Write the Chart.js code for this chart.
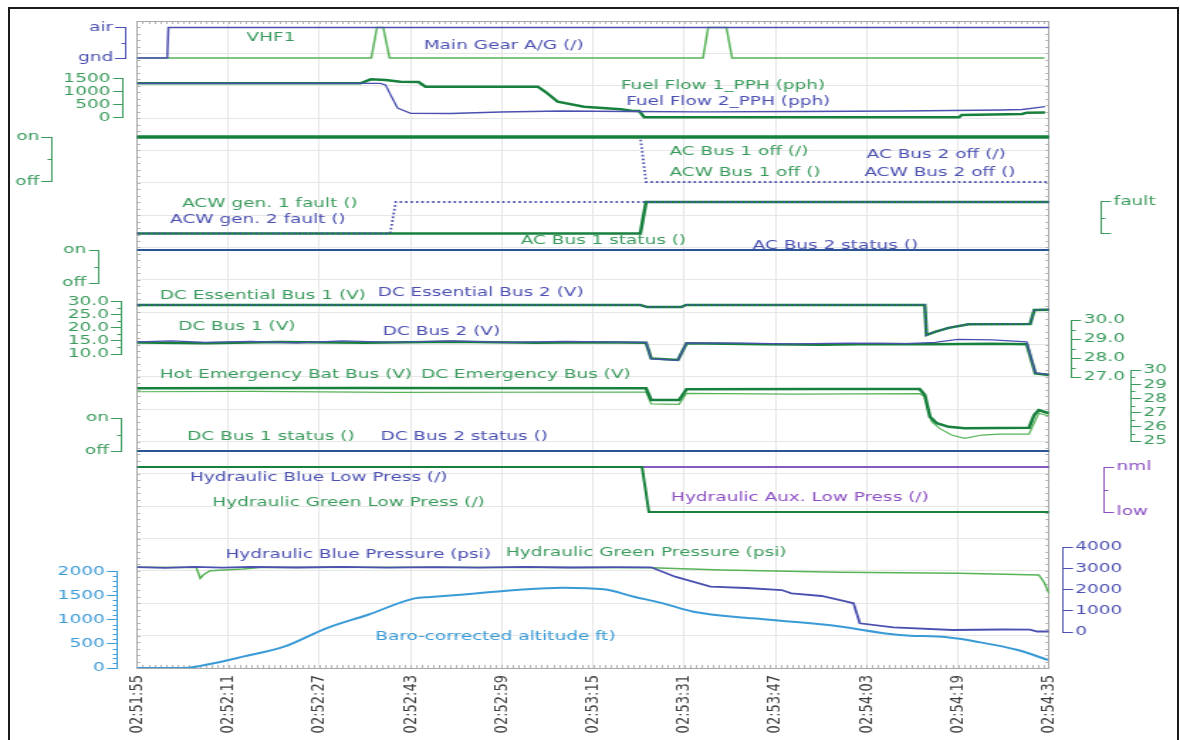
<!DOCTYPE html>
<html>
<head>
<meta charset="utf-8">
<title>Electrical and hydraulic parameters 02:51:55 - 02:54:35</title>
<script src="https://cdn.jsdelivr.net/npm/chart.js@4.4.1/dist/chart.umd.min.js"></script>
<style>
  html, body { margin: 0; padding: 0; background: #fff; overflow: hidden; }
  #frame { position: absolute; left: 8px; top: 7px; width: 1167px; height: 800px; border: 2px solid #1b1b1b; }
  /* the plot is laid out narrow and widened horizontally, like the exported trace sheet */
  #wrap { position: absolute; left: 0; top: 0; width: 831px; height: 740px; transform: scaleX(1.42); transform-origin: 0 0; }
</style>
</head>
<body>
<div id="wrap"><canvas id="chart" width="831" height="740"></canvas></div>
<div id="frame"></div>
<script>
// time is seconds after 02:51:55
var T0 = 2 * 3600 + 51 * 60 + 55;
var timeTicks = [0, 16, 32, 48, 64, 80, 96, 112, 128, 144, 160];

// [t, value] pairs
var mainGear = [[0, 0], [5.3, 0], [5.5, 1], [160, 1]];
var vhf1 = [[0, 0], [41.1, 0], [42.1, 1], [43.2, 1], [44.3, 0], [99.3, 0], [100.2, 1], [103.4, 1], [104.4, 0], [159.2, 0]];

var fuelFlow1 = [[0, 1308], [39.2, 1308], [41.0, 1462], [43.6, 1435], [46.2, 1369], [49.4, 1358], [50.6, 1177], [70.3, 1177],
    [71.7, 973], [73.8, 600], [78.4, 408], [84.9, 308], [86.7, 254], [88.1, 242], [89.0, 0], [144.2, 0], [144.7, 88],
    [155.3, 127], [156.1, 177], [159.3, 185]];
var fuelFlow2 = [[0, 1308], [42.7, 1308], [43.6, 1242], [44.5, 858], [45.7, 358], [48.0, 154], [55.0, 146], [63.8, 204],
    [74.4, 242], [86.7, 223], [99.0, 212], [116.6, 223], [134.2, 242], [151.7, 281], [155.3, 300], [159.3, 408]];

var acBus1Off = [[0, 1], [160, 1]];
var acBus2Off = [[0, 1], [160, 1]];
var acwBus1Off = [[0, 1], [160, 1]];
var acwBus2Off = [[0, 1], [88.3, 1], [89.3, 0], [160, 0]];

var acwGen1Fault = [[0, 0], [88.3, 0], [89.3, 1], [160, 1]];
var acwGen2Fault = [[0, 0], [44.4, 0], [45.4, 1], [160, 1]];

var acBus1Status = [[0, 1], [160, 1]];
var acBus2Status = [[0, 1], [160, 1]];

var dcEss1 = [[0, 28.6], [88.3, 28.6], [89.5, 27.8], [95.5, 27.8], [96.3, 28.6], [138.2, 28.6], [138.5, 17.2], [140.0, 18.4],
    [142.4, 19.9], [145.9, 21.3], [156.7, 21.4], [157.4, 26.7], [160, 26.8]];
var dcEss2 = [[0, 28.65], [88.3, 28.65], [89.5, 27.85], [95.5, 27.85], [96.3, 28.65], [138.2, 28.65], [138.5, 17.3], [140.0, 18.5],
    [142.4, 20.0], [145.9, 21.4], [156.7, 21.5], [157.4, 26.8], [160, 26.9]];

var dcBus1 = [[0, 28.82], [12, 28.78], [25, 28.84], [40, 28.8], [55, 28.85], [70, 28.8], [80, 28.83], [89.3, 28.8], [90.2, 27.98],
    [94.9, 27.9], [96.4, 28.77], [110, 28.72], [120, 28.7], [130, 28.74], [140, 28.72], [150, 28.75], [156.1, 28.72],
    [157.6, 27.19], [160, 27.1]];
var dcBus2 = [[0, 28.85], [6, 28.9], [12, 28.82], [20, 28.88], [28, 28.8], [36, 28.9], [45, 28.83], [55, 28.9], [65, 28.82],
    [75, 28.88], [85, 28.84], [89.3, 28.82], [90.2, 27.95], [94.9, 27.88], [96.4, 28.8], [105, 28.78], [115, 28.74],
    [125, 28.78], [135, 28.76], [140, 28.82], [144, 28.98], [150, 28.95], [156.1, 28.85], [157.6, 27.22], [160, 27.14]];

var hotEmerBat = [[0, 28.71], [40, 28.74], [89.3, 28.71], [90.2, 27.89], [95.1, 27.89], [96.4, 28.64], [120, 28.66], [137.3, 28.66],
    [138.2, 28.24], [139.1, 26.71], [140.3, 26.25], [142.4, 26.0], [145.2, 25.89], [156.5, 25.94], [157.4, 26.83],
    [158.2, 27.18], [159.1, 27.06], [160, 26.95]];
var dcEmer = [[0, 28.47], [20, 28.5], [45, 28.42], [89.3, 28.45], [90.2, 27.61], [95.1, 27.58], [96.4, 28.36], [115, 28.3],
    [137.3, 28.34], [138.2, 28.12], [139.4, 26.36], [140.8, 25.89], [142.9, 25.42], [145.2, 25.19], [148.2, 25.42],
    [151.2, 25.49], [156.5, 25.49], [158.2, 26.95], [160, 26.76]];

var dcBus1Status = [[0, 0], [160, 0]];
var dcBus2Status = [[0, 0], [160, 0]];

var hydBlueLow = [[0, 1], [160, 1]];
var hydGreenLow = [[0, 1], [88.6, 1], [89.8, 0], [160, 0]];
var hydAuxLow = [[0, 1], [160, 1]];

var hydGreenPress = [[0, 3045], [10.4, 3035], [11.1, 2527], [11.6, 2682], [12.8, 2885], [18.6, 2965], [21.6, 3035], [50.3, 3045],
    [90.2, 3021], [102.7, 2918], [123.4, 2809], [144.2, 2762], [158.2, 2682], [159.1, 2353], [160, 1821]];
var hydBluePress = [[0, 3050], [5, 3020], [10, 3060], [15, 3030], [20, 3065], [28, 3035], [36, 3060], [44, 3025], [52, 3055],
    [60, 3030], [68, 3060], [76, 3035], [84, 3055], [90.2, 3045], [94.4, 2602], [100.6, 2132], [106.9, 2071], [113.1, 1976],
    [114.8, 1821], [120.1, 1694], [124.5, 1426], [125.7, 1351], [126.8, 409], [132.7, 221], [143.1, 94], [151.7, 118],
    [156.7, 108], [157.9, 24], [160, 24]];

var baroAlt = [[0, 0], [8.3, 0], [12.8, 83], [18.6, 235], [25.8, 442], [33.2, 823], [40.4, 1098], [48.7, 1443], [51.5, 1471],
    [56.1, 1513], [66.5, 1617], [74.7, 1665], [81.9, 1630], [87.2, 1478], [92.3, 1340], [97.6, 1166], [108.0, 1029],
    [121.3, 891], [133.8, 684], [142.1, 636], [147.3, 545], [154.5, 373], [159.8, 166]];

// axis tick values
var onOffTicks = [0, 1];
var fuelTicks = [0, 500, 1000, 1500];
var dcEssTicks = [10, 15, 20, 25, 30];
var dcBusTicks = [27, 28, 29, 30];
var emerTicks = [25, 26, 27, 28, 29, 30];
var altTicks = [0, 500, 1000, 1500, 2000];
var hydTicks = [0, 1000, 2000, 3000, 4000];

var SX = 1.42;             // horizontal widening of the sheet
var PLOT_TOP = 21, PLOT_BOTTOM = 668;
var TICK_LEN = 11 / SX, LABEL_GAP = 1.5 / SX;
var FONT = '"DejaVu Sans", Verdana, sans-serif';

var BLUE = '#4b50b0';
var NAVY = '#2b5495';
var GREEN = '#17803d';
var GREEN_TXT = '#3a9a5c';
var GREEN_LIGHT = '#58b258';
var PURPLE = '#8c4fc2';
var SKY = '#3a9ad6';

function onOff(v) { return v === 1 ? 'on' : 'off'; }
function oneDec(v) { return v.toFixed(1); }
function plain(v) { return String(v); }

function range(from, to, step, skip) {
    var out = [];
    for (var v = from; v <= to; v += step) if (v % skip !== 0) out.push(v);
    return out;
}

// value axes: rows = [top value, sheet row, bottom value, sheet row]; span = box width on the sheet
var axisDefs = {
    yAcOff:  { pos: 'left', weight: 9, span: 52, rows: [1, 137, 0, 182], ticks: onOffTicks, fmt: onOff, color: GREEN_TXT, minor: [0.5] },
    yAcStat: { pos: 'left', weight: 8, span: 48, rows: [1, 250, 0, 283], ticks: onOffTicks, fmt: onOff, color: GREEN_TXT, minor: [0.5] },
    yAlt:    { pos: 'left', weight: 7, span: 18, rows: [2000, 571.5, 0, 668], ticks: altTicks, fmt: plain, color: SKY, minor: range(100, 1900, 100, 500) },
    yDcEss:  { pos: 'left', weight: 6, span: 4, rows: [30, 301.3, 10, 354], ticks: dcEssTicks, fmt: oneDec, color: GREEN_TXT, minor: [12.5, 17.5, 22.5, 27.5] },
    yDcStat: { pos: 'left', weight: 5, span: 0, rows: [1, 418, 0, 451], ticks: onOffTicks, fmt: onOff, color: GREEN_TXT, minor: [0.5] },
    yFuel:   { pos: 'left', weight: 4, span: 2, rows: [1500, 78.3, 0, 117.3], ticks: fuelTicks, fmt: plain, color: GREEN_TXT, minor: [] },
    yGear:   { pos: 'left', weight: 3, span: 2, rows: [1, 27.5, 0, 58], ticks: onOffTicks, color: BLUE, minor: [0.5],
               fmt: function(v) { return v === 1 ? 'air' : 'gnd'; } },
    yHyd:    { pos: 'right', weight: 2, span: 8, rows: [4000, 547, 0, 632], ticks: hydTicks, fmt: plain, color: BLUE, minor: [] },
    yDcBus:  { pos: 'right', weight: 3, span: 30, rows: [30, 320, 27, 377], ticks: dcBusTicks, fmt: oneDec, color: GREEN_TXT, minor: [27.5, 28.5, 29.5] },
    yFault:  { pos: 'right', weight: 4, span: 3, rows: [1, 202, 0, 233.5], ticks: onOffTicks, color: GREEN_TXT, minor: [0.5],
               fmt: function(v) { return v === 1 ? 'fault' : ''; } },
    yLowP:   { pos: 'right', weight: 5, span: 27, rows: [1, 467, 0, 512], ticks: onOffTicks, color: PURPLE, minor: [0.5],
               fmt: function(v) { return v === 1 ? 'nml' : 'low'; } },
    yEmer:   { pos: 'right', weight: 6, span: 50, rows: [30, 370, 25, 441], ticks: emerTicks, fmt: plain, color: GREEN_TXT, minor: [25.5, 26.5, 27.5, 28.5, 29.5] }
};

function fixWidth(px) {
    return function(scale) { scale.width = px / SX; };
}

// min/max so that vTop sits on sheet row rowTop and vBot on rowBot
function limits(vTop, rowTop, vBot, rowBot) {
    var perRow = (vTop - vBot) / (rowBot - rowTop);
    return { max: vTop + (rowTop - PLOT_TOP) * perRow, min: vBot - (PLOT_BOTTOM - rowBot) * perRow };
}

function valueAxis(o) {
    var lim = limits(o.rows[0], o.rows[1], o.rows[2], o.rows[3]);
    return {
        type: 'linear',
        position: o.pos,
        weight: o.weight,
        min: lim.min,
        max: lim.max,
        afterFit: fixWidth(o.span),
        afterBuildTicks: function(scale) {
            scale.ticks = o.ticks.map(function(v) { return { value: v }; });
        },
        border: { display: false },
        grid: { display: true, drawOnChartArea: false, drawTicks: true, tickLength: TICK_LEN, color: o.color, lineWidth: 1 },
        // boxes are narrower than their labels, the labels are painted by axisSpines
        ticks: { display: false, callback: o.fmt }
    };
}

function spacer(pos, weight, span) {
    return {
        type: 'linear', position: pos, weight: weight, min: 0, max: 1,
        afterFit: fixWidth(span),
        border: { display: false }, grid: { display: false }, ticks: { display: false }
    };
}

var scales = {
    x: {
        type: 'linear', position: 'bottom', min: 0, max: 160,
        afterBuildTicks: function(scale) {
            scale.ticks = timeTicks.map(function(v) { return { value: v }; });
        },
        afterFit: function(scale) { scale.height = 740 - PLOT_BOTTOM; },
        border: { display: false },
        grid: { color: '#e6e6e6', drawTicks: false },
        ticks: {
            autoSkip: false, maxRotation: 90, minRotation: 90, padding: 7, color: '#3d3d3d',
            font: { family: FONT, size: 13 },
            callback: function(v) {
                var t = T0 + v;
                return [Math.floor(t / 3600), Math.floor(t % 3600 / 60), t % 60].map(function(n) {
                    return String(n).padStart(2, '0');
                }).join(':');
            }
        }
    },
    yGrid: {
        type: 'linear', position: 'left', weight: 2, min: 0, max: 20,
        afterFit: fixWidth(0),
        afterBuildTicks: function(scale) {
            var t = [];
            for (var i = 0; i <= 20; i++) t.push({ value: i });
            scale.ticks = t;
        },
        border: { display: false },
        grid: { color: '#e6e6e6', drawTicks: false },
        ticks: { display: false }
    },
    yPadL: spacer('left', 1, 11),
    yPadR: spacer('right', 1, 13)
};
Object.keys(axisDefs).forEach(function(id) { scales[id] = valueAxis(axisDefs[id]); });

// trace names written inside the plot: [text, axis, t, value, colour]
var notes = [
    ['VHF1', 'yGear', 19.2, 0.656, GREEN_TXT],
    ['Main Gear A/G (/)', 'yGear', 50.3, 0.393, BLUE],
    ['Fuel Flow 1_PPH (pph)', 'yFuel', 84.9, 1204, GREEN_TXT],
    ['Fuel Flow 2_PPH (pph)', 'yFuel', 85.8, 588, BLUE],
    ['AC Bus 1 off (/)', 'yAcOff', 93.4, 0.667, GREEN_TXT],
    ['ACW Bus 1 off ()', 'yAcOff', 93.4, 0.2, GREEN_TXT],
    ['AC Bus 2 off (/)', 'yAcOff', 128.0, 0.6, BLUE],
    ['ACW Bus 2 off ()', 'yAcOff', 127.6, 0.2, BLUE],
    ['ACW gen. 1 fault ()', 'yFault', 7.9, 0.937, GREEN_TXT],
    ['ACW gen. 2 fault ()', 'yFault', 5.8, 0.429, BLUE],
    ['AC Bus 1 status ()', 'yAcStat', 67.3, 1.273, GREEN_TXT],
    ['AC Bus 2 status ()', 'yAcStat', 108.0, 1.121, BLUE],
    ['DC Essential Bus 1 (V)', 'yDcEss', 4.0, 32.0, GREEN_TXT],
    ['DC Essential Bus 2 (V)', 'yDcEss', 42.2, 33.15, BLUE],
    ['DC Bus 1 (V)', 'yDcBus', 7.2, 29.63, GREEN_TXT],
    ['DC Bus 2 (V)', 'yDcBus', 43.1, 29.37, BLUE],
    ['Hot Emergency Bat Bus (V)', 'yEmer', 4.0, 29.65, GREEN_TXT],
    ['DC Emergency Bus (V)', 'yEmer', 49.8, 29.65, GREEN_TXT],
    ['DC Bus 1 status ()', 'yDcStat', 8.8, 0.424, GREEN_TXT],
    ['DC Bus 2 status ()', 'yDcStat', 42.7, 0.424, BLUE],
    ['Hydraulic Blue Low Press (/)', 'yLowP', 9.3, 0.756, BLUE],
    ['Hydraulic Green Low Press (/)', 'yLowP', 13.2, 0.2, GREEN_TXT],
    ['Hydraulic Aux. Low Press (/)', 'yLowP', 93.7, 0.311, PURPLE],
    ['Hydraulic Blue Pressure (psi)', 'yHyd', 15.5, 3624, BLUE],
    ['Hydraulic Green Pressure (psi)', 'yHyd', 64.7, 3718, GREEN_TXT],
    ['Baro-corrected altitude ft)', 'yAlt', 41.8, 642, SKY]
];

function series(label, pts, axis, color, width, dash, smooth) {
    return {
        label: label,
        data: pts.map(function(p) { return { x: p[0], y: p[1] }; }),
        yAxisID: axis,
        borderColor: color,
        borderWidth: width,
        borderDash: dash || [],
        pointRadius: 0,
        fill: false,
        tension: 0,
        cubicInterpolationMode: smooth ? 'monotone' : 'default'
    };
}

// earlier entries are painted on top
var datasets = [
    series('Main Gear A/G', mainGear, 'yGear', BLUE, 1.5),
    series('VHF1', vhf1, 'yGear', GREEN_LIGHT, 1.5),
    series('Fuel Flow 2_PPH', fuelFlow2, 'yFuel', BLUE, 1.3),
    series('Fuel Flow 1_PPH', fuelFlow1, 'yFuel', GREEN, 2.5),
    series('AC Bus 1 off', acBus1Off, 'yAcOff', GREEN, 3),
    series('ACW Bus 1 off', acwBus1Off, 'yAcOff', GREEN, 3),
    series('AC Bus 2 off', acBus2Off, 'yAcOff', BLUE, 1.5),
    series('ACW Bus 2 off', acwBus2Off, 'yAcOff', BLUE, 1.8, [1.6, 2.2]),
    series('ACW gen. 2 fault', acwGen2Fault, 'yFault', BLUE, 1.8, [1.6, 2.2]),
    series('ACW gen. 1 fault', acwGen1Fault, 'yFault', GREEN, 2.5),
    series('AC Bus 2 status', acBus2Status, 'yAcStat', NAVY, 2),
    series('AC Bus 1 status', acBus1Status, 'yAcStat', GREEN, 2),
    series('DC Essential Bus 2', dcEss2, 'yDcEss', BLUE, 1.5, [1.6, 2.2]),
    series('DC Essential Bus 1', dcEss1, 'yDcEss', GREEN, 2.5),
    series('DC Bus 2', dcBus2, 'yDcBus', BLUE, 1.2),
    series('DC Bus 1', dcBus1, 'yDcBus', GREEN, 2.5),
    series('Hot Emergency Bat Bus', hotEmerBat, 'yEmer', GREEN, 2.5),
    series('DC Emergency Bus', dcEmer, 'yEmer', GREEN_LIGHT, 1.2),
    series('DC Bus 2 status', dcBus2Status, 'yDcStat', NAVY, 2),
    series('DC Bus 1 status', dcBus1Status, 'yDcStat', GREEN, 2),
    series('Hydraulic Green Low Press', hydGreenLow, 'yLowP', GREEN, 2),
    series('Hydraulic Aux. Low Press', hydAuxLow, 'yLowP', PURPLE, 1.6),
    series('Hydraulic Blue Low Press', hydBlueLow, 'yLowP', BLUE, 1.6),
    series('Hydraulic Blue Pressure', hydBluePress, 'yHyd', BLUE, 1.8),
    series('Hydraulic Green Pressure', hydGreenPress, 'yHyd', GREEN_LIGHT, 1.5),
    series('Baro-corrected altitude', baroAlt, 'yAlt', SKY, 2, null, true)
];

// grey plot frame with the small inward ticks along all four sides
var framePlugin = {
    id: 'plotFrame',
    beforeDatasetsDraw: function(chart) {
        var a = chart.chartArea, ctx = chart.ctx;
        var x = chart.scales.x, g = chart.scales.yGrid;
        ctx.save();
        ctx.strokeStyle = '#b4b4b4';
        ctx.lineWidth = 1;
        ctx.beginPath();
        for (var s = 1; s < 160; s++) {
            var px = Math.round(x.getPixelForValue(s)) + 0.5;
            ctx.moveTo(px, a.top); ctx.lineTo(px, a.top + 3);
            ctx.moveTo(px, a.bottom); ctx.lineTo(px, a.bottom - 3);
        }
        for (var k = 1; k < 100; k++) {
            var py = Math.round(g.getPixelForValue(k / 5)) + 0.5;
            ctx.moveTo(a.left, py); ctx.lineTo(a.left + 2.5, py);
            ctx.moveTo(a.right, py); ctx.lineTo(a.right - 2.5, py);
        }
        ctx.stroke();
        ctx.strokeStyle = '#a8a8a8';
        ctx.strokeRect(Math.round(a.left) + 0.5, Math.round(a.top) + 0.5,
            Math.round(a.right - a.left), Math.round(a.bottom - a.top));
        ctx.restore();
    }
};

// spine, short in-between ticks and tick labels of every value axis
var spinePlugin = {
    id: 'axisSpines',
    afterDraw: function(chart) {
        var ctx = chart.ctx;
        ctx.save();
        ctx.lineWidth = 1;
        ctx.font = '13px ' + FONT;
        ctx.textBaseline = 'middle';
        Object.keys(axisDefs).forEach(function(id) {
            var sc = chart.scales[id], d = axisDefs[id];
            var left = d.pos === 'left';
            var x = Math.round(left ? sc.right : sc.left) + (left ? -0.5 : 0.5);
            var dir = left ? -1 : 1;
            var ends = [d.ticks[0], d.ticks[d.ticks.length - 1]];
            ctx.strokeStyle = d.color;
            ctx.beginPath();
            ctx.moveTo(x, sc.getPixelForValue(ends[0]));
            ctx.lineTo(x, sc.getPixelForValue(ends[1]));
            d.minor.forEach(function(v) {
                var y = Math.round(sc.getPixelForValue(v)) + 0.5;
                ctx.moveTo(x, y);
                ctx.lineTo(x + dir * 3, y);
            });
            ctx.stroke();
            ctx.fillStyle = d.color;
            ctx.textAlign = left ? 'right' : 'left';
            sc.ticks.forEach(function(t) {
                var text = d.fmt(t.value);
                if (text) ctx.fillText(text, x + dir * (TICK_LEN + LABEL_GAP), sc.getPixelForValue(t.value));
            });
        });
        ctx.restore();
    }
};

var notesPlugin = {
    id: 'traceNames',
    afterDatasetsDraw: function(chart) {
        var ctx = chart.ctx;
        ctx.save();
        ctx.font = '13px ' + FONT;
        ctx.textAlign = 'left';
        ctx.textBaseline = 'middle';
        notes.forEach(function(n) {
            ctx.fillStyle = n[4];
            ctx.fillText(n[0], chart.scales.x.getPixelForValue(n[2]), chart.scales[n[1]].getPixelForValue(n[3]));
        });
        ctx.restore();
    }
};

new Chart(document.getElementById('chart'), {
    type: 'line',
    data: { datasets: datasets },
    options: {
        responsive: false,
        animation: false,
        events: [],
        devicePixelRatio: 1,
        layout: { padding: { top: PLOT_TOP, left: 0, right: 0, bottom: 0 } },
        plugins: { legend: { display: false }, tooltip: { enabled: false } },
        scales: scales
    },
    plugins: [framePlugin, spinePlugin, notesPlugin]
});
</script>
</body>
</html>
